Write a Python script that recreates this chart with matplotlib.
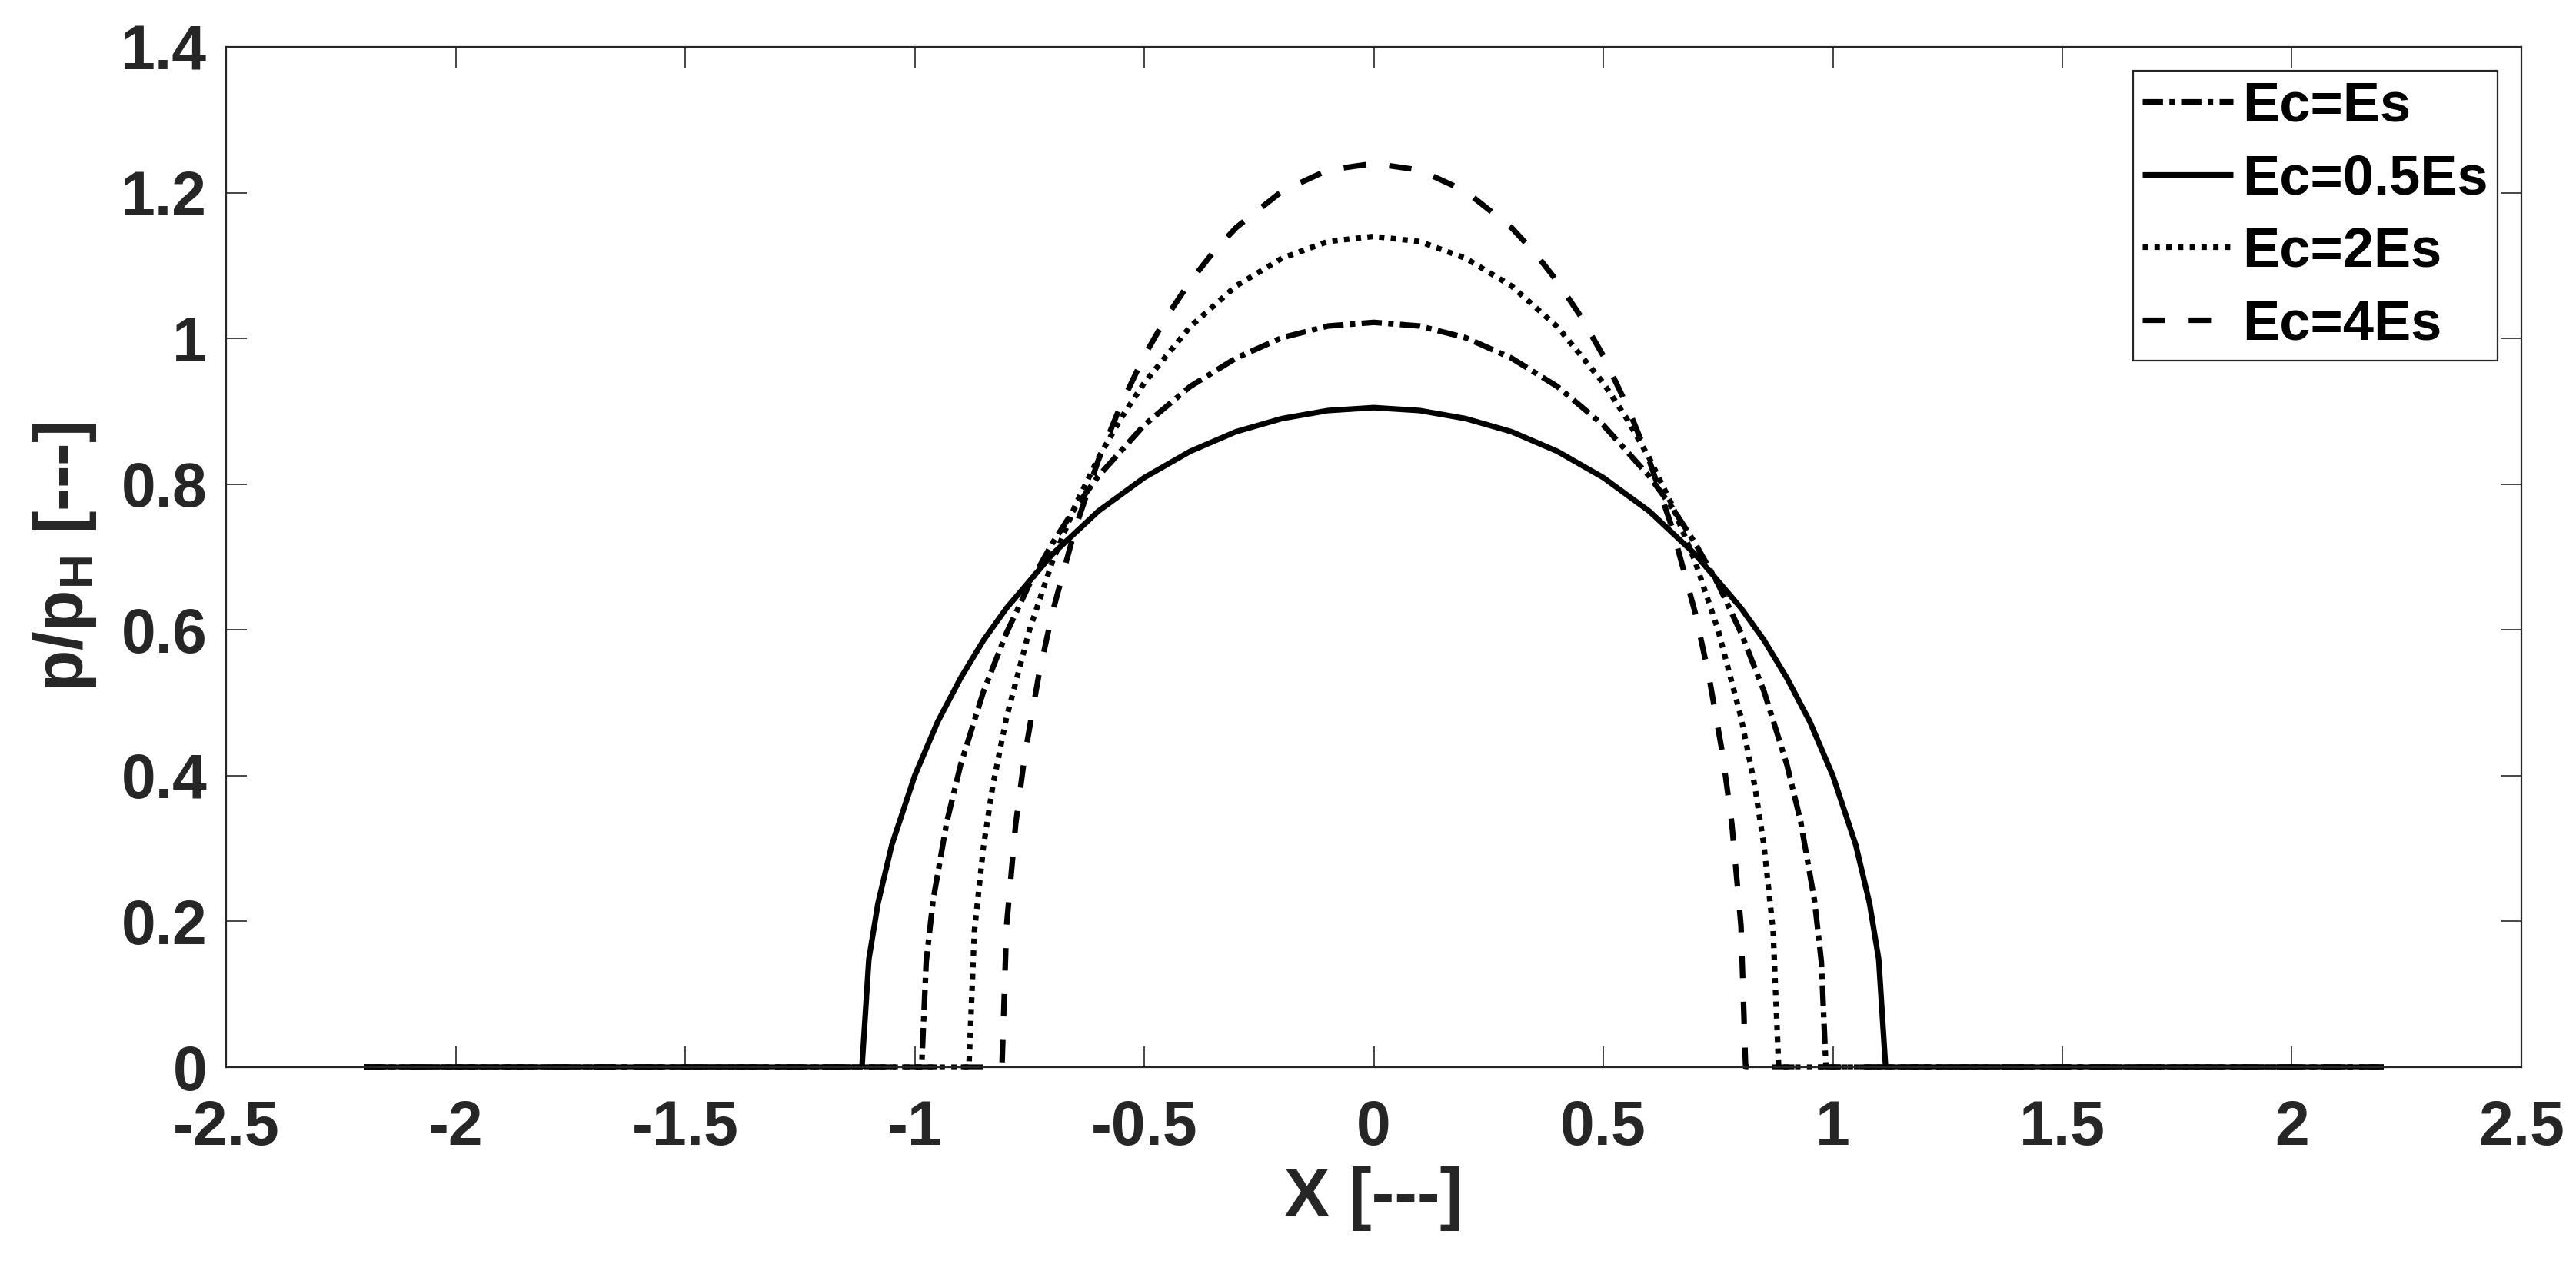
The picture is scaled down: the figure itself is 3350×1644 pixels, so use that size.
import matplotlib
matplotlib.use('Agg')
import matplotlib.pyplot as plt

# ---------------- data ----------------
labels = ['Ec=Es', 'Ec=0.5Es', 'Ec=2Es', 'Ec=4Es']

x_es = [-2.2, -0.985, -0.975, -0.96, -0.93, -0.9, -0.85, -0.8, -0.75, -0.7, -0.65, -0.6, -0.5, -0.4, -0.3, -0.2, -0.1, 0.0,
        0.1, 0.2, 0.3, 0.4, 0.5, 0.6, 0.65, 0.7, 0.75, 0.8, 0.85, 0.9, 0.93, 0.96, 0.975, 0.985, 2.2]
p_es = [0.0, 0.0, 0.145, 0.229, 0.337, 0.415, 0.516, 0.596, 0.663, 0.719, 0.768, 0.811, 0.881, 0.934, 0.973, 1.001, 1.017, 1.022,
        1.017, 1.001, 0.973, 0.934, 0.881, 0.811, 0.768, 0.719, 0.663, 0.596, 0.516, 0.415, 0.337, 0.229, 0.145, 0.0, 0.0]

x_05 = [-2.2, -1.115, -1.10, -1.08, -1.05, -1.0, -0.95, -0.9, -0.85, -0.8, -0.7, -0.6, -0.5, -0.4, -0.3, -0.2, -0.1, 0.0,
        0.1, 0.2, 0.3, 0.4, 0.5, 0.6, 0.7, 0.8, 0.85, 0.9, 0.95, 1.0, 1.05, 1.08, 1.10, 1.115, 2.2]
p_05 = [0.0, 0.0, 0.148, 0.225, 0.305, 0.400, 0.474, 0.534, 0.586, 0.630, 0.704, 0.763, 0.809, 0.845, 0.872, 0.890, 0.901, 0.905,
        0.901, 0.890, 0.872, 0.845, 0.809, 0.763, 0.704, 0.630, 0.586, 0.534, 0.474, 0.400, 0.305, 0.225, 0.148, 0.0, 0.0]

x_2 = [-2.2, -0.882, -0.87, -0.85, -0.83, -0.8, -0.75, -0.7, -0.65, -0.6, -0.55, -0.5, -0.4, -0.3, -0.2, -0.1, 0.0,
       0.1, 0.2, 0.3, 0.4, 0.5, 0.55, 0.6, 0.65, 0.7, 0.75, 0.8, 0.83, 0.85, 0.87, 0.882, 2.2]
p_2 = [0.0, 0.0, 0.187, 0.304, 0.386, 0.480, 0.600, 0.694, 0.771, 0.836, 0.891, 0.939, 1.016, 1.072, 1.110, 1.133, 1.140,
       1.133, 1.110, 1.072, 1.016, 0.939, 0.891, 0.836, 0.771, 0.694, 0.600, 0.480, 0.386, 0.304, 0.187, 0.0, 0.0]

x_4 = [-2.2, -0.81, -0.80, -0.78, -0.76, -0.73, -0.7, -0.65, -0.6, -0.55, -0.5, -0.45, -0.4, -0.35, -0.3, -0.2, -0.1, 0.0,
       0.1, 0.2, 0.3, 0.35, 0.4, 0.45, 0.5, 0.55, 0.6, 0.65, 0.7, 0.73, 0.76, 0.78, 0.80, 0.81, 2.2]
p_4 = [0.0, 0.0, 0.194, 0.334, 0.429, 0.537, 0.624, 0.740, 0.833, 0.910, 0.976, 1.031, 1.078, 1.118, 1.152, 1.202, 1.231, 1.240,
       1.231, 1.202, 1.152, 1.118, 1.078, 1.031, 0.976, 0.910, 0.833, 0.740, 0.624, 0.537, 0.429, 0.334, 0.194, 0.0, 0.0]

xticks = [-2.5, -2, -1.5, -1, -0.5, 0, 0.5, 1, 1.5, 2, 2.5]
xtick_labels = ['-2.5', '-2', '-1.5', '-1', '-0.5', '0', '0.5', '1', '1.5', '2', '2.5']
yticks = [0, 0.2, 0.4, 0.6, 0.8, 1.0, 1.2, 1.4]
ytick_labels = ['0', '0.2', '0.4', '0.6', '0.8', '1', '1.2', '1.4']

# ---------------- style ----------------
plt.rcParams['font.family'] = ['Liberation Sans', 'DejaVu Sans']
plt.rcParams['font.weight'] = 'bold'
plt.rcParams['axes.unicode_minus'] = False
plt.rcParams['mathtext.fontset'] = 'custom'
plt.rcParams['mathtext.rm'] = 'Liberation Sans:bold'
plt.rcParams['mathtext.it'] = 'Liberation Sans:bold'
plt.rcParams['mathtext.bf'] = 'Liberation Sans:bold'
plt.rcParams['lines.scale_dashes'] = False

dark = '#262626'
fig = plt.figure(figsize=(33.5, 16.44), dpi=100)
ax = fig.add_axes([0.0878, 0.1557, 0.891, 0.8072])

lw = 5.2
styles = [(0, (19, 6, 5, 6)), '-', (0, (5, 6)), (0, (21, 22))]
series = [(x_es, p_es), (x_05, p_05), (x_2, p_2), (x_4, p_4)]
for (xs, ps), st, lab in zip(series, styles, labels):
    ax.plot(xs, ps, color='black', lw=lw, linestyle=st, label=lab,
            clip_on=False, dash_capstyle='butt', solid_capstyle='butt')

ax.set_xlim(-2.5, 2.5)
ax.set_ylim(0, 1.4)
ax.set_xticks(xticks)
ax.set_xticklabels(xtick_labels, fontsize=58, fontweight='bold', color=dark)
ax.set_yticks(yticks)
ax.set_yticklabels(ytick_labels, fontsize=58, fontweight='bold', color=dark)
ax.tick_params(axis='both', direction='in', length=19.5, width=1.2, colors=dark,
               top=True, right=True)
ax.tick_params(axis='x', pad=30)
ax.tick_params(axis='y', pad=18)
for s in ax.spines.values():
    s.set_linewidth(1.6)
    s.set_color(dark)

ax.set_xlabel('X [---]', fontsize=64, fontweight='bold', color=dark, labelpad=8)
ax.set_ylabel(r'p/p$_{\mathrm{H}}$ [---]', fontsize=64, fontweight='bold', color=dark)
ax.yaxis.set_label_coords(-0.0556, 0.5)

leg = ax.legend(loc='upper right', fontsize=52, handlelength=1.64, handletextpad=0.16,
                labelspacing=0.37, borderpad=0.17, borderaxespad=0.43,
                frameon=True, fancybox=False, edgecolor=dark, framealpha=1)
leg.get_frame().set_linewidth(1.6)
for t in leg.get_texts():
    t.set_fontweight('bold')

fig.savefig('out.png', dpi=100, facecolor='white')
